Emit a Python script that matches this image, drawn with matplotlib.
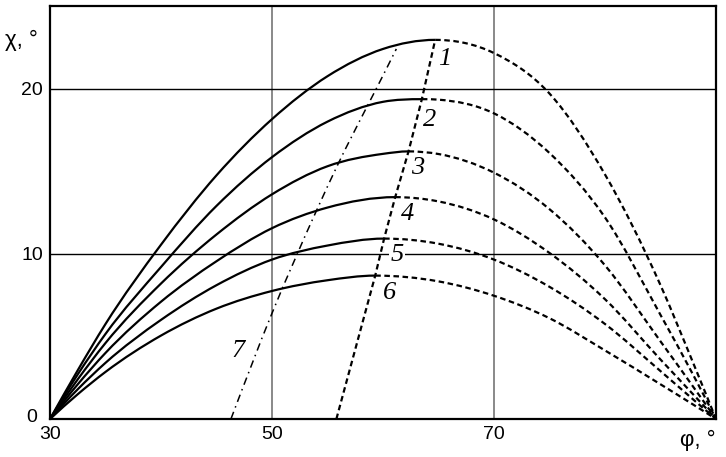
import matplotlib
matplotlib.use("Agg")
import matplotlib.pyplot as plt
from matplotlib.path import Path
from matplotlib.patches import PathPatch

# angle phi, deg (x axis) and chi values for curves 1..6
phi = [30, 32.5, 35, 40, 45, 50, 55, 60, 65, 70, 75, 80, 85, 88, 90]
chi_1 = [0, 2.95, 5.75, 10.55, 14.75, 18.15, 20.75, 22.4, 22.94, 22.15, 19.7, 14.8, 8.1, 3.3, 0]
chi_2 = [0, 2.7, 5.15, 9.2, 12.9, 15.85, 18.0, 19.2, 19.33, 18.5, 16.1, 12.2, 6.3, 2.6, 0]
chi_3 = [0, 2.4, 4.6, 8.2, 11.17, 13.6, 15.3, 16.05, 16.04, 14.91, 12.7, 9.3, 4.7, 1.9, 0]
chi_4 = [0, 2.1, 4.0, 7.1, 9.55, 11.55, 12.8, 13.4, 13.17, 12.08, 10.05, 7.25, 3.6, 1.45, 0]
chi_5 = [0, 1.8, 3.4, 6.0, 8.1, 9.65, 10.5, 10.9, 10.61, 9.65, 8.0, 5.75, 2.9, 1.15, 0]
chi_6 = [0, 1.5, 2.85, 5.05, 6.68, 7.75, 8.4, 8.67, 8.33, 7.46, 6.1, 4.15, 2.1, 0.85, 0]
curves = [chi_1, chi_2, chi_3, chi_4, chi_5, chi_6]

# maxima: solid before, dashed after
peak_phi = [64.7, 63.5, 62.3, 61.1, 60.1, 59.3]
peak_chi = [22.95, 19.36, 16.2, 13.43, 10.92, 8.68]

# line through the maxima starts here on the axis
peak_base_phi = 55.8

# curve 7 (dash-dot)
line7_phi = [46.3, 50, 54.0, 56.0, 58.4, 59.4, 61.2]
line7_chi = [0, 6.4, 12.6, 15.5, 18.7, 20.0, 22.4]

labels = ["1", "2", "3", "4", "5", "6", "7"]
label_phi = [65.6, 64.2, 63.1, 62.25, 61.3, 60.6, 46.9]
label_chi = [21.8, 18.1, 15.2, 12.4, 9.9, 7.6, 4.1]

x_ticks = [30, 50, 70]
y_ticks = [10, 20]


def smooth(xs, ys, m0=None, m1=None):
    # bezier path through the read points (hermite tangents)
    n = len(xs)
    d = [(ys[i + 1] - ys[i]) / (xs[i + 1] - xs[i]) for i in range(n - 1)]
    m = [0.0] * n
    for i in range(1, n - 1):
        h0, h1 = xs[i] - xs[i - 1], xs[i + 1] - xs[i]
        m[i] = (d[i - 1] * h1 + d[i] * h0) / (h0 + h1)
    m[0] = (3 * d[0] - m[1]) / 2 if n > 2 else d[0]
    m[-1] = (3 * d[-1] - m[-2]) / 2 if n > 2 else d[-1]
    if m0 is not None:
        m[0] = m0
    if m1 is not None:
        m[-1] = m1
    verts = [(xs[0], ys[0])]
    codes = [Path.MOVETO]
    for i in range(n - 1):
        h = xs[i + 1] - xs[i]
        verts += [(xs[i] + h / 3, ys[i] + m[i] * h / 3),
                  (xs[i + 1] - h / 3, ys[i + 1] - m[i + 1] * h / 3),
                  (xs[i + 1], ys[i + 1])]
        codes += [Path.CURVE4] * 3
    return Path(verts, codes)


fig = plt.figure(figsize=(7.26, 4.57), dpi=100)
ax = fig.add_axes([50 / 726, 38 / 457, 666 / 726, 413 / 457])
ax.set_xlim(30, 90)
ax.set_ylim(0, 25)

dash = (0, (2.5, 1.6))
for chi, pp, pc in zip(curves, peak_phi, peak_chi):
    # points too close to the maximum are left out of the smooth path
    left = [(p, c) for p, c in zip(phi, chi) if p < pp - 1.5] + [(pp, pc)]
    right = [(pp, pc)] + [(p, c) for p, c in zip(phi, chi) if p > pp + 1.4]
    ax.add_patch(PathPatch(smooth([p for p, c in left], [c for p, c in left], m1=0.0),
                           fill=False, color="black", lw=1.6, zorder=3))
    ax.add_patch(PathPatch(smooth([p for p, c in right], [c for p, c in right], m0=0.0),
                           fill=False, color="black", lw=1.6, linestyle=dash, zorder=3))

ax.plot([peak_base_phi] + peak_phi[::-1], [0] + peak_chi[::-1], color="black",
        lw=1.6, linestyle=dash, zorder=3)
ax.add_patch(PathPatch(smooth(line7_phi, line7_chi), fill=False, color="black",
                       lw=1.1, linestyle=(0, (5, 3, 1, 3)), zorder=3))

for t, x, y in zip(labels, label_phi, label_chi):
    bb = dict(facecolor="white", edgecolor="none", pad=1) if t == "5" else None
    ax.text(x, y, t, fontsize=19, family="Liberation Serif", style="italic",
            ha="center", va="center", zorder=4, bbox=bb)

ax.set_xticks(x_ticks)
ax.set_yticks(y_ticks)
ax.set_xticklabels([str(v) for v in x_ticks])
ax.set_yticklabels([str(v) for v in y_ticks])
ax.tick_params(length=0, labelsize=14, pad=5)
for lab in ax.get_xticklabels() + ax.get_yticklabels():
    lab.set_family("Liberation Sans")
ax.xaxis.grid(True, color="#808080", lw=1.3)
ax.yaxis.grid(True, color="black", lw=1.0)
ax.set_axisbelow(True)
for s in ax.spines.values():
    s.set_linewidth(1.6)

fig.text(32 / 726, 1 - 418 / 457, "0", fontsize=14, family="Liberation Sans",
         ha="center", va="center")
fig.text(5 / 726, 1 - 40 / 457, "χ, °", fontsize=16, family="Liberation Sans",
         ha="left", va="center")
fig.text(716 / 726, 1 - 440 / 457, "φ, °", fontsize=16, family="Liberation Sans",
         ha="right", va="center")

fig.savefig("out.png", dpi=100)
